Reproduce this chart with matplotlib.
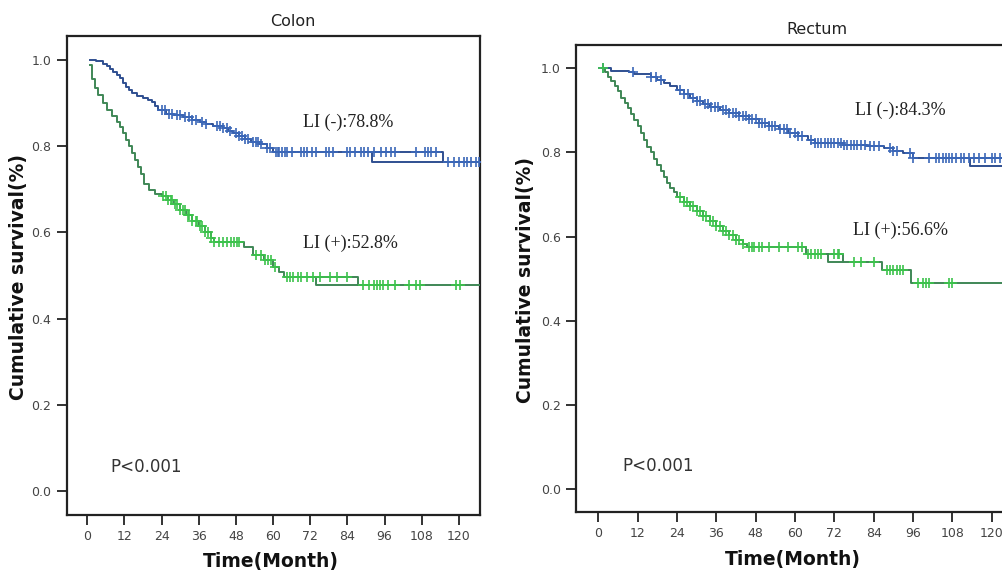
import numpy as np
import matplotlib
matplotlib.use('Agg')
import matplotlib.pyplot as plt

# Kaplan-Meier curves (time in months, survival)
# Colon, LI(-)
colon_neg_t = [1, 3, 5, 6.5, 7.5, 8.5, 9.5, 10.5, 11.5, 12.5, 13.5, 14.5, 16, 18, 19.5, 21, 22, 23,
               25.5, 28, 31, 34, 36.5, 38.5, 40.5, 44, 45.5, 47, 49, 51, 53, 55.5, 58, 60, 115]
colon_neg_s = [1.0, 0.997, 0.992, 0.986, 0.980, 0.973, 0.966, 0.958, 0.948, 0.938, 0.930, 0.923,
               0.917, 0.911, 0.907, 0.903, 0.893, 0.884, 0.876, 0.872, 0.868, 0.862, 0.857, 0.852,
               0.847, 0.843, 0.836, 0.830, 0.823, 0.816, 0.811, 0.805, 0.797, 0.786, 0.764]
colon_neg_alt_t = [92, 115]
colon_neg_alt_s = [0.786, 0.764]
colon_neg_cens = [24, 25, 26.5, 27.5, 29, 30, 31.5, 33, 34, 35, 37, 38.5, 42, 43, 44, 45, 46, 48, 49, 50,
                  51, 52, 53.5, 54.5, 55, 56, 58, 59, 61, 61.5, 62, 63, 64, 64.5, 66, 69, 70, 71, 72.5, 74,
                  77, 78, 79.5, 84, 85, 86.5, 88.5, 89.5, 90.5, 92.5, 95, 96.5, 98, 99.5, 106, 109, 110,
                  111, 112.5, 116.5, 118.5, 120, 121.5, 122.5, 124, 125.5, 126.5]

# Colon, LI(+)
colon_pos_t = [1, 1.5, 2.5, 3.5, 5, 6.5, 8, 9.5, 10.5, 11.5, 12.5, 13.5, 14.5, 15.5, 16.5, 17.5, 18.5,
               20, 22, 24, 26, 28, 30, 32, 34, 36, 38, 40, 41, 50.5, 53.5, 57, 60, 62, 63.5, 87.5]
colon_pos_s = [0.988, 0.957, 0.935, 0.92, 0.90, 0.885, 0.87, 0.856, 0.845, 0.83, 0.815, 0.80, 0.785,
               0.768, 0.752, 0.735, 0.712, 0.698, 0.690, 0.684, 0.675, 0.665, 0.652, 0.640, 0.627,
               0.614, 0.600, 0.588, 0.578, 0.567, 0.548, 0.536, 0.520, 0.509, 0.497, 0.478]
colon_pos_alt_t = [74, 87.5]
colon_pos_alt_s = [0.497, 0.478]
colon_pos_cens = [24.5, 25.5, 26, 27, 27.5, 28.5, 29, 30, 31, 31.5, 32.5, 33, 34, 35, 35.5, 36.5, 37, 38,
                  39, 40, 41, 42.5, 44, 45, 46.5, 47.5, 48.5, 49, 54.5, 56, 57.5, 58.5, 59.5, 60.5, 64.5,
                  65.5, 66.5, 68, 69, 71, 73, 75, 78.5, 80.5, 84, 89, 91, 92.5, 93.5, 94.5, 95.5, 97,
                  99.5, 104, 106, 107.5, 119, 120.5]

# Rectum, LI(-)
rectum_neg_t = [1, 4, 9.5, 11, 16, 18, 20, 22, 24, 26, 28, 30, 32, 34, 37, 40, 43, 46, 49, 52, 55, 58,
                61, 64, 66, 75, 82, 87, 90, 93, 96]
rectum_neg_s = [1.0, 0.994, 0.99, 0.985, 0.980, 0.972, 0.965, 0.957, 0.947, 0.938, 0.930, 0.922, 0.914,
                0.907, 0.900, 0.893, 0.886, 0.879, 0.870, 0.862, 0.855, 0.847, 0.840, 0.830, 0.822,
                0.818, 0.815, 0.810, 0.804, 0.798, 0.787]
rectum_neg_alt_t = [113.5, 127]
rectum_neg_alt_s = [0.787, 0.768]
rectum_neg_cens = [1.5, 10.5, 16, 17.5, 19, 25, 26, 27.5, 29, 30, 31, 32.5, 33.5, 34.5, 35.5, 36.5, 38,
                   39, 40, 41, 42, 43, 44, 45, 46, 47, 48, 49, 50, 51, 52, 53, 54, 55.5, 56.5, 57.5,
                   58.5, 60, 61, 62, 65, 66, 67, 68, 69, 70, 71, 72, 73, 74, 75, 76, 77, 78, 79, 80,
                   81.5, 83, 84, 85.5, 89, 90, 91, 95, 96, 101, 103, 104, 105, 106, 107, 108, 109,
                   110.5, 111.5, 113, 114.5, 116, 118, 120, 121, 122.5]

# Rectum, LI(+)
rectum_pos_t = [1, 2, 3, 4, 5, 6, 7, 8, 9, 10, 11, 12, 13, 14, 15, 16, 17, 18, 19, 20, 21, 22, 23, 24,
                26, 28, 30, 32, 34, 36, 38, 40, 42, 44, 45.5, 63.5, 74.5, 86.5, 95.5]
rectum_pos_s = [1.0, 0.99, 0.98, 0.97, 0.958, 0.945, 0.93, 0.918, 0.905, 0.89, 0.877, 0.862, 0.846,
                0.83, 0.814, 0.80, 0.785, 0.77, 0.755, 0.742, 0.728, 0.716, 0.705, 0.695, 0.683,
                0.672, 0.662, 0.648, 0.636, 0.625, 0.614, 0.603, 0.592, 0.583, 0.576, 0.559, 0.539,
                0.521, 0.490]
rectum_pos_alt_t = [70.2, 74.5]
rectum_pos_alt_s = [0.559, 0.541]
rectum_pos_cens = [1.5, 25, 26, 27, 28, 29, 30, 31, 32, 33, 34, 35, 36, 37, 38, 39, 40, 41, 42, 43, 44,
                   46, 47, 47.5, 49, 50, 52, 55, 58, 61, 62, 64, 65, 66, 67, 68, 72, 73, 73.5, 78, 80,
                   84, 88, 89, 90, 91, 92, 93, 97.5, 99, 100, 101, 107, 108]

titles = ['Colon', 'Rectum']
neg_labels = ['LI (-):78.8%', 'LI (-):84.3%']
pos_labels = ['LI (+):52.8%', 'LI (+):56.6%']
p_text = 'P<0.001'
x_ticks = list(range(0, 121, 12))
y_ticks = [0.0, 0.2, 0.4, 0.6, 0.8, 1.0]

blue_line = '#2f4f90'
blue_mark = '#3b67b8'
green_line = '#3f8756'
green_mark = '#3cc24c'

W, H = 1003, 578
fig = plt.figure(figsize=(W / 100, H / 100), dpi=100)


def px(x0, y0, x1, y1):
    # pixel box -> figure fraction rect
    return [x0 / W, 1 - y1 / H, (x1 - x0) / W, (y1 - y0) / H]


def km(ax, t, s, cens, line_c, mark_c, alt_t, alt_s, t_end=127):
    tt = list(t) + [t_end]
    ss = list(s) + [s[-1]]
    ax.step(tt, ss, where='post', color=line_c, lw=1.4, zorder=3)
    ax.step(alt_t, alt_s, where='pre', color=line_c, lw=1.4, zorder=3)
    idx = np.searchsorted(t, cens, side='right') - 1
    idx = np.clip(idx, 0, len(s) - 1)
    cy = np.array(s)[idx]
    ax.plot(cens, cy, ls='none', marker='+', ms=7, mew=1.2, color=mark_c, zorder=4)


axes = [fig.add_axes(px(66.7, 36, 480, 515)), fig.add_axes(px(576, 45, 1014, 511.7))]
xlims = [(-6.6, 126.8), (-6.8, 126.8)]
ylims = [(-0.056, 1.056), (-0.053, 1.055)]

km(axes[0], colon_neg_t, colon_neg_s, colon_neg_cens, blue_line, blue_mark, colon_neg_alt_t, colon_neg_alt_s)
km(axes[0], colon_pos_t, colon_pos_s, colon_pos_cens, green_line, green_mark, colon_pos_alt_t, colon_pos_alt_s)
km(axes[1], rectum_neg_t, rectum_neg_s, rectum_neg_cens, blue_line, blue_mark, rectum_neg_alt_t, rectum_neg_alt_s)
km(axes[1], rectum_pos_t, rectum_pos_s, rectum_pos_cens, green_line, green_mark, rectum_pos_alt_t, rectum_pos_alt_s)

# label spots (data coords)
neg_xy = [(69.6, 0.856), (78.3, 0.901)]
pos_xy = [(69.6, 0.575), (77.6, 0.616)]
p_xy = [(7.4, 0.056), (7.2, 0.055)]

for i, ax in enumerate(axes):
    ax.set_xlim(*xlims[i])
    ax.set_ylim(*ylims[i])
    ax.set_xticks(x_ticks)
    ax.set_yticks(y_ticks)
    ax.set_yticklabels(['%.1f' % v for v in y_ticks])
    ax.tick_params(direction='out', length=7, width=1.3, pad=4, labelsize=9, labelcolor='#444', color='#222')
    for sp in ax.spines.values():
        sp.set_linewidth(1.6)
        sp.set_color('#222')
    ax.text(neg_xy[i][0], neg_xy[i][1], neg_labels[i], family='Liberation Serif', fontsize=13,
            color='#222', va='center')
    ax.text(pos_xy[i][0], pos_xy[i][1], pos_labels[i], family='Liberation Serif', fontsize=13,
            color='#222', va='center')
    ax.text(p_xy[i][0], p_xy[i][1], p_text, fontsize=12, color='#333', va='center')

# titles and axis labels placed in pixels
fig.text(293 / W, 1 - 21 / H, titles[0], ha='center', va='center', fontsize=11.5, color='#222')
fig.text(817 / W, 1 - 30 / H, titles[1], ha='center', va='center', fontsize=11.5, color='#222')
for xc, yc in [(19, 277), (526, 280)]:
    fig.text(xc / W, 1 - yc / H, 'Cumulative survival(%)', rotation=90, ha='center', va='center',
             fontsize=13.5, fontweight='bold', color='#111')
for xc, yc in [(271, 562), (793, 560)]:
    fig.text(xc / W, 1 - yc / H, 'Time(Month)', ha='center', va='center',
             fontsize=13.5, fontweight='bold', color='#111')

fig.savefig('out.png', dpi=100)
